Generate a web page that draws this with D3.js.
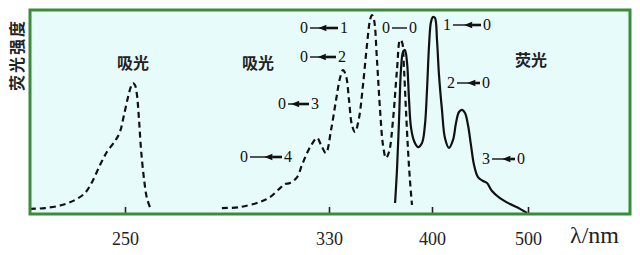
<!DOCTYPE html>
<html><head><meta charset="utf-8">
<script src="https://cdn.jsdelivr.net/npm/d3@7"></script>
<style>html,body{margin:0;padding:0;background:#fff;}svg{display:block;}</style>
</head><body>
<script>
// Wavelength ticks (broken, non-linear axis)
const tickValues = [250, 330, 400, 500];
const tickLabels = ["250", "330", "400", "500"];

// Absorption band near 250 nm (dashed)
const absorb1 = [
  [212.7,2.5],[218.6,2.9],[225.3,4.4],[230.4,6.9],[234.3,10.3],[237.1,15.7],[240.2,24],
  [242.9,30.4],[246.1,35.8],[248.0,40.2],[249.6,48.5],[251.2,57.4],[252.4,62.7],[253.1,64.2],
  [253.9,63.2],[254.7,58.3],[255.5,46.1],[256.3,31.4],[257.5,16.7],[258.6,7.8],[260.2,2]
];
// Vibronic absorption band (dashed)
const absorb2 = [
  [288.0,2.9],[295.1,3.4],[302.9,5.9],[306.9,8.3],[310.8,12.7],[312.7,14.7],[314.7,15.2],
  [317.5,18.1],[319.4,24],[321.4,29.9],[323.3,34.3],[325.3,37.3],[326.9,33.8],[328.8,29.9],
  [331.4,41.2],[334.8,55.9],[337.5,66.7],[339.5,70.6],[341.6,67.6],[343.6,55.9],[345.6,43.6],
  [347.7,40.2],[350.4,47.1],[353.1,63.2],[355.8,82.8],[357.9,95.1],[359.2,97.5],[360.6,95.1],
  [362.6,75.5],[364.7,51],[366.7,33.8],[368.7,27.5],[370.8,30.4],[373.5,46.1],[376.2,70.6],
  [378.3,85.3],[379.6,84.3],[381.0,70.6],[382.3,51],[383.7,31.4],[385.0,16.7],[386.4,4.4]
];
// Fluorescence band (solid)
const fluor = [
  [374.9,5.4],[376.2,21.6],[377.6,46.1],[378.9,70.6],[380.3,79.4],[381.6,80.4],[383.0,74.5],
  [384.4,55.9],[385.7,42.6],[387.8,35.8],[390.5,32.8],[393.2,34.8],[395.2,43.6],[396.6,60.8],
  [398.0,82.8],[399.3,94.1],[401.0,96.6],[403.1,96.1],[405.2,85.3],[407.3,68.1],[410.4,51],
  [413.5,37.3],[417.7,32.4],[421.9,36.3],[425.0,44.6],[428.1,50],[431.3,51],[434.4,49.5],
  [437.5,43.6],[440.6,33.8],[443.8,24],[447.9,18.1],[453.1,16.2],[457.3,15.2],[462.5,11.3],
  [470.8,7.8],[481.3,4.9],[491.7,2.5],[499.0,0.5]
];

const W = 640, H = 255;
const frame = {x0: 30, y0: 10, x1: 630, y1: 214};

const svg = d3.select("body").append("svg").attr("width", W).attr("height", H);

// piecewise (broken) wavelength scale
const x = d3.scaleLinear()
  .domain([212.75, 250, 330, 400, 500, 606])
  .range([30, 125, 329, 432, 528, 630]);
const y = d3.scaleLinear().domain([0, 100]).range([214, 10]);

// plot background
svg.append("rect").attr("x", frame.x0).attr("y", frame.y0)
  .attr("width", frame.x1 - frame.x0).attr("height", frame.y1 - frame.y0)
  .attr("fill", "#e8fbfb").attr("stroke", "none");

// axis with inward ticks
const axis = d3.axisBottom(x).tickValues(tickValues)
  .tickFormat((d, i) => tickLabels[i]).tickSize(-7).tickPadding(18);
const gx = svg.append("g").attr("transform", `translate(0,${frame.y1})`).call(axis);
gx.select(".domain").remove();
gx.selectAll(".tick line").attr("stroke", "#222").attr("stroke-width", 1.6);
gx.selectAll(".tick text").attr("fill", "#222")
  .style("font-family", "'Liberation Serif','DejaVu Serif',serif").style("font-size", "18px");

const line = d3.line().x(d => x(d[0])).y(d => y(d[1])).curve(d3.curveCatmullRom.alpha(0.5));

svg.append("path").datum(absorb1).attr("d", line).attr("fill", "none")
  .attr("stroke", "#111").attr("stroke-width", 2.2).attr("stroke-dasharray", "6,4");
svg.append("path").datum(absorb2).attr("d", line).attr("fill", "none")
  .attr("stroke", "#111").attr("stroke-width", 2.2).attr("stroke-dasharray", "6,4");
svg.append("path").datum(fluor).attr("d", line).attr("fill", "none")
  .attr("stroke", "#111").attr("stroke-width", 2.2);

// frame on top
svg.append("rect").attr("x", frame.x0).attr("y", frame.y0)
  .attr("width", frame.x1 - frame.x0).attr("height", frame.y1 - frame.y0)
  .attr("fill", "none").attr("stroke", "#3a8c3a").attr("stroke-width", 3);

// y-axis title
svg.append("text").attr("transform", "translate(23,55) rotate(-90)")
  .attr("text-anchor", "middle").attr("fill", "#222")
  .style("font-family", "'Noto Sans CJK SC',sans-serif").style("font-size", "16px")
  .style("font-weight", "bold").style("letter-spacing", "2px").text("荧光强度");

// x-axis unit
svg.append("text").attr("x", 570).attr("y", 243).attr("fill", "#222")
  .style("font-family", "'Liberation Serif','DejaVu Serif',serif").style("font-size", "24px")
  .text("λ/nm");

// Chinese band labels
const cjk = (tx, ty, s) => svg.append("text").attr("x", tx).attr("y", ty).attr("fill", "#222")
  .style("font-family", "'Noto Sans CJK SC',sans-serif").style("font-size", "16px")
  .style("font-weight", "bold").text(s);
cjk(117, 69, "吸光");
cjk(242, 69, "吸光");
cjk(515, 66, "荧光");

// vibronic transition labels
const serif = "'Liberation Serif','DejaVu Serif',serif";
function trans(a, b, xa, xb, yc, headFrac) {
  const g = svg.append("g");
  g.append("text").attr("x", xa).attr("y", yc + 5).attr("fill", "#111")
    .style("font-family", serif).style("font-size", "16px").text(a);
  g.append("text").attr("x", xb).attr("y", yc + 5).attr("fill", "#111")
    .style("font-family", serif).style("font-size", "16px").text(b);
  const l0 = xa + 10, l1 = xb - 2;
  g.append("line").attr("x1", l0).attr("x2", l1).attr("y1", yc).attr("y2", yc)
    .attr("stroke", "#111").attr("stroke-width", 1.4);
  const hx = l0 + (l1 - l0) * headFrac;
  g.append("path").attr("d", `M${hx},${yc} L${hx + 8},${yc - 3.2} L${hx + 8},${yc + 3.2} Z`).attr("fill", "#111");
  g.append("line").attr("x1", hx + 8).attr("x2", l1).attr("y1", yc).attr("y2", yc)
    .attr("stroke", "#111").attr("stroke-width", 2.6);
}
trans("0", "1", 300, 340, 28, 0.3);
trans("0", "2", 300, 338, 57, 0.3);
trans("0", "3", 278, 311, 104, 0.15);
trans("0", "4", 240, 284, 157, 0.45);
trans("1", "0", 443, 483, 25, 0.4);
trans("2", "0", 447, 482, 83, 0.45);
trans("3", "0", 482, 517, 159, 0.45);

// 0--0 label
svg.append("text").attr("x", 382).attr("y", 33).attr("fill", "#111")
  .style("font-family", serif).style("font-size", "16px").text("0");
svg.append("text").attr("x", 409).attr("y", 33).attr("fill", "#111")
  .style("font-family", serif).style("font-size", "16px").text("0");
svg.append("line").attr("x1", 392).attr("x2", 407).attr("y1", 28).attr("y2", 28)
  .attr("stroke", "#111").attr("stroke-width", 1.4);
</script>
</body></html>
